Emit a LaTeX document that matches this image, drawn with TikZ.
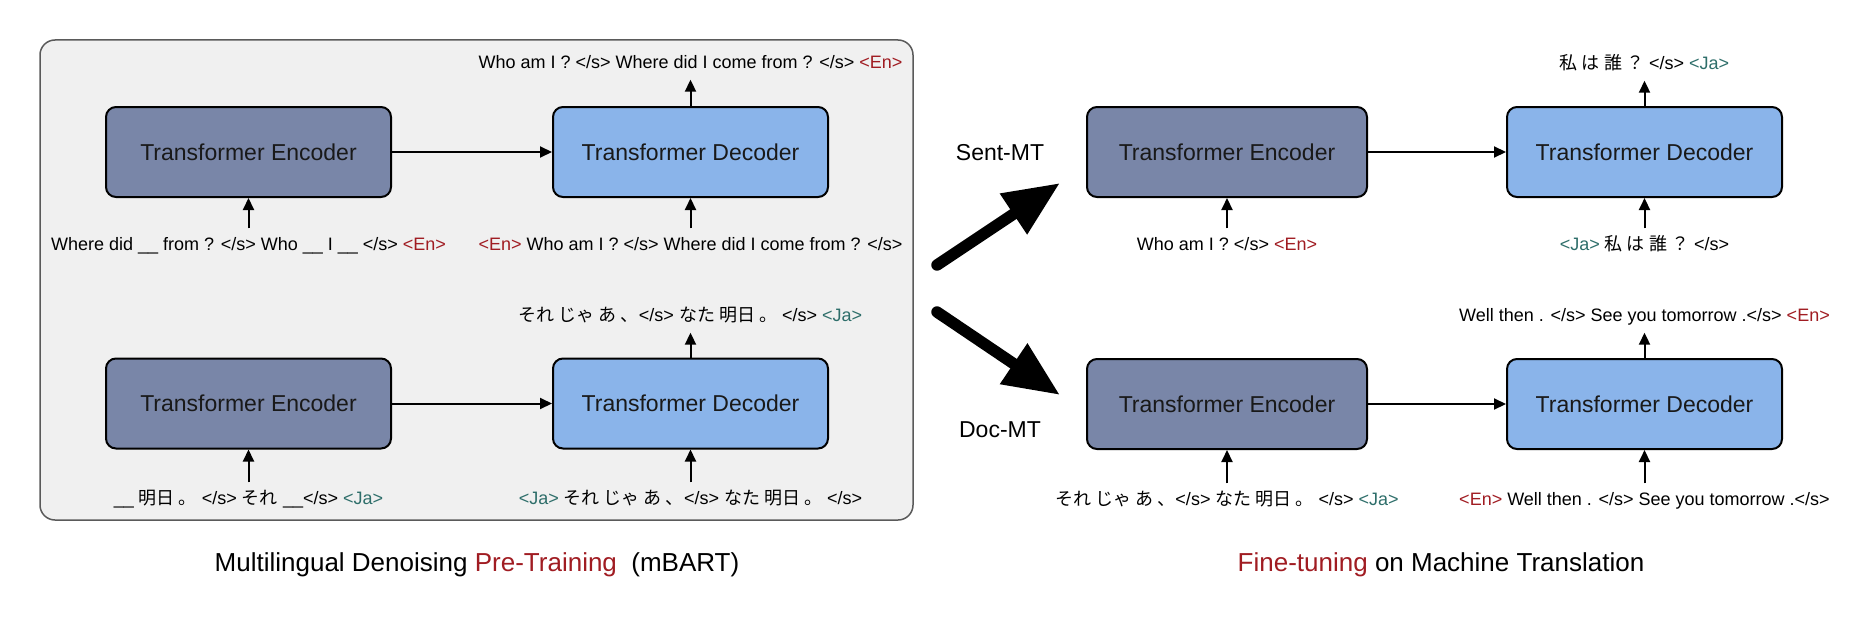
\documentclass[tikz,border=0pt]{standalone}
\usepackage{fontspec}
\setmainfont{Liberation Sans}
\newfontfamily\jp{Noto Sans CJK JP}
\usetikzlibrary{arrows.meta}
\definecolor{encfill}{HTML}{7986A8}
\definecolor{decfill}{HTML}{8AB4EA}
\definecolor{panelfill}{HTML}{F0F0F0}
\definecolor{panelline}{HTML}{5A5A5A}
\definecolor{ared}{HTML}{A01C22}
\definecolor{ateal}{HTML}{2E6E6A}
\newcommand\tEn{\textcolor{ared}{<En>}}
\newcommand\tJa{\textcolor{ateal}{<Ja>}}
\newcommand\tS{</s>}
\begin{document}
\begin{tikzpicture}[x=1pt,y=-1pt,
  box/.style={draw=black,line width=2pt,rounded corners=10pt,minimum height=90pt,
    font=\fontsize{23}{27}\selectfont,text=black!90},
  encbox/.style={box,fill=encfill,minimum width=285pt},
  decbox/.style={box,fill=decfill,minimum width=275pt},
  lbl/.style={font=\fontsize{18}{22}\selectfont,anchor=base,inner xsep=0pt,
    text height=13pt,text depth=4pt},
  inlbl/.style={lbl,inner ysep=9pt},
  outlbl/.style={lbl,inner ysep=7pt},
  arr/.style={line width=2pt,-{Triangle[length=12pt,width=11pt]}},
  bigarr/.style={line width=11.5pt,line cap=round,-{Triangle[length=56pt,width=46pt]}},
  side/.style={font=\fontsize{23}{27}\selectfont},
  captxt/.style={font=\fontsize{26}{30}\selectfont}
]
\useasboundingbox (0,0) rectangle (1858,618);
% panel
\draw[fill=panelfill,draw=panelline,line width=1.5pt,rounded corners=15pt] (40,40) rectangle (913,520);

% ---- left top
\node[encbox] (e1) at (248.5,152) {Transformer Encoder};
\node[decbox] (d1) at (690.5,152) {Transformer Decoder};
\node[outlbl] (o1) at (690.5,68.5) {Who am I ? \tS{} Where did I come from ? \tS{} \tEn};
\node[inlbl] (i1) at (248.5,250.5) {Where did \_\_ from ? \tS{} Who \_\_ I \_\_ \tS{} \tEn};
\node[inlbl] (j1) at (690.5,250.5) {\tEn{} Who am I ? \tS{} Where did I come from ? \tS};
\draw[arr] (e1) -- (d1);
\draw[arr] (d1.north) -- (o1.south);
\draw[arr] (i1.north) -- (e1.south);
\draw[arr] (j1.north) -- (d1.south);

% ---- left bottom
\node[encbox] (e2) at (248.5,403.5) {Transformer Encoder};
\node[decbox] (d2) at (690.5,403.5) {Transformer Decoder};
\node[outlbl] (o2) at (690.5,321.5) {{\jp それ じゃ あ 、}\tS{} {\jp なた 明日 。} \tS{} \tJa};
\node[inlbl] (i2) at (248.5,504.5) {\_\_ {\jp 明日 。} \tS{} {\jp それ} \_\_\tS{} \tJa};
\node[inlbl] (j2) at (690.5,504.5) {\tJa{} {\jp それ じゃ あ 、}\tS{} {\jp なた 明日 。} \tS};
\draw[arr] (e2) -- (d2);
\draw[arr] (d2.north) -- (o2.south);
\draw[arr] (i2.north) -- (e2.south);
\draw[arr] (j2.north) -- (d2.south);

% ---- right top
\node[encbox,minimum width=280pt] (e3) at (1227,152) {Transformer Encoder};
\node[decbox] (d3) at (1644.5,152) {Transformer Decoder};
\node[outlbl] (o3) at (1644.5,69.5) {{\jp 私 は 誰 ？} \tS{} \tJa};
\node[inlbl] (i3) at (1227,250.5) {Who am I ? \tS{} \tEn};
\node[inlbl] (j3) at (1644.5,250.5) {\tJa{} {\jp 私 は 誰 ？} \tS};
\draw[arr] (e3) -- (d3);
\draw[arr] (d3.north) -- (o3.south);
\draw[arr] (i3.north) -- (e3.south);
\draw[arr] (j3.north) -- (d3.south);

% ---- right bottom
\node[encbox,minimum width=280pt] (e4) at (1227,404) {Transformer Encoder};
\node[decbox] (d4) at (1644.5,404) {Transformer Decoder};
\node[outlbl] (o4) at (1644.5,321.5) {Well then . \tS{} See you tomorrow .\tS{} \tEn};
\node[inlbl] (i4) at (1227,505.5) {{\jp それ じゃ あ 、}\tS{} {\jp なた 明日 。} \tS{} \tJa};
\node[inlbl] (j4) at (1644.5,505.5) {\tEn{} Well then . \tS{} See you tomorrow .\tS};
\draw[arr] (e4) -- (d4);
\draw[arr] (d4.north) -- (o4.south);
\draw[arr] (i4.north) -- (e4.south);
\draw[arr] (j4.north) -- (d4.south);

% ---- side labels and big arrows
\node[side] (sent) at (1000,153) {Sent-MT};
\node[side] (doc) at (1000,430) {Doc-MT};
\coordinate (s0) at (937,265);
\coordinate (s1) at (1060,183);
\coordinate (t0) at (937,312);
\coordinate (t1) at (1060,395);
\draw[bigarr] (s0) -- (s1);
\draw[bigarr] (t0) -- (t1);

% ---- captions
\node[captxt] (c1) at (477,565) {Multilingual Denoising \textcolor{ared}{Pre-Training}\ \ (mBART)};
\node[captxt] (c2) at (1441,565) {\textcolor{ared}{Fine-tuning} on Machine Translation};
\end{tikzpicture}
\end{document}
